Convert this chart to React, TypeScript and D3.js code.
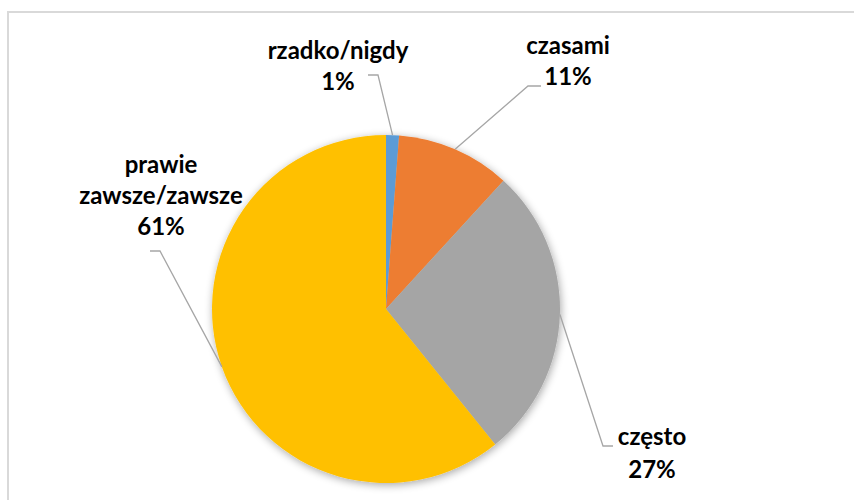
import React from "react";
import * as d3 from "d3";

const categories = ["rzadko/nigdy", "czasami", "często", "prawie zawsze/zawsze"];
const values = [1.2, 10.6, 27.4, 60.8];
const labelLines = [["rzadko/nigdy"], ["czasami"], ["często"], ["prawie", "zawsze/zawsze"]];
const colors = ["#5B9BD5", "#ED7D31", "#A5A5A5", "#FFC000"];

const W = 854;
const H = 500;
const cx = 386;
const cy = 309;
const R = 174;

// where each label sits: elbow of the leader, end of its tail, text centre and first baseline
const labelLayout = [
  { ex: 378, ey: 75, tx: 368, x: 338, y: 59 },
  { ex: 528, ey: 86, tx: 541, x: 568, y: 54 },
  { ex: 603, ey: 446, tx: 613, x: 652, y: 445 },
  { ex: 160, ey: 251, tx: 150, x: 161, y: 173 },
];

const App: React.FC = () => {
  const pie = d3.pie<number>().sort(null).value((d) => d);
  const arcs = pie(values);
  const arc = d3.arc<d3.PieArcDatum<number>>().innerRadius(0).outerRadius(R);
  const total = d3.sum(values);

  return (
    <svg width={W} height={H} style={{ position: "absolute", left: 0, top: 0 }}>
      <defs>
        <filter id="shadow" x="-20%" y="-20%" width="140%" height="140%">
          <feGaussianBlur in="SourceAlpha" stdDeviation="4" />
          <feOffset dx="1" dy="2" result="blur" />
          <feComponentTransfer>
            <feFuncA type="linear" slope="0.35" />
          </feComponentTransfer>
          <feMerge>
            <feMergeNode />
            <feMergeNode in="SourceGraphic" />
          </feMerge>
        </filter>
      </defs>
      <rect x={0} y={0} width={W} height={H} fill="#fff" />
      <rect x={8} y={12} width={W} height={H} fill="#fff" stroke="#d9d9d9" strokeWidth={2} />

      <g transform={`translate(${cx},${cy})`} filter="url(#shadow)">
        {arcs.map((a, i) => (
          <path key={categories[i]} d={arc(a) || ""} fill={colors[i]} />
        ))}
      </g>

      {arcs.map((a, i) => {
        const mid = (a.startAngle + a.endAngle) / 2;
        const px = cx + R * Math.sin(mid);
        const py = cy - R * Math.cos(mid);
        const L = labelLayout[i];
        const lines = [...labelLines[i], `${Math.round((values[i] / total) * 100)}%`];
        return (
          <g key={"lbl" + i}>
            <polyline
              points={`${px},${py} ${L.ex},${L.ey} ${L.tx},${L.ey}`}
              fill="none"
              stroke="#a6a6a6"
              strokeWidth={1.3}
            />
            <text
              x={L.x}
              y={L.y}
              textAnchor="middle"
              fontFamily="Lato, 'Open Sans', sans-serif"
              fontWeight="bold"
              fontSize={24}
              fill="#000"
            >
              {lines.map((t, j) => (
                <tspan key={j} x={L.x} dy={j === 0 ? 0 : i === 2 ? 33 : 31}>
                  {t}
                </tspan>
              ))}
            </text>
          </g>
        );
      })}
    </svg>
  );
};

export default App;
